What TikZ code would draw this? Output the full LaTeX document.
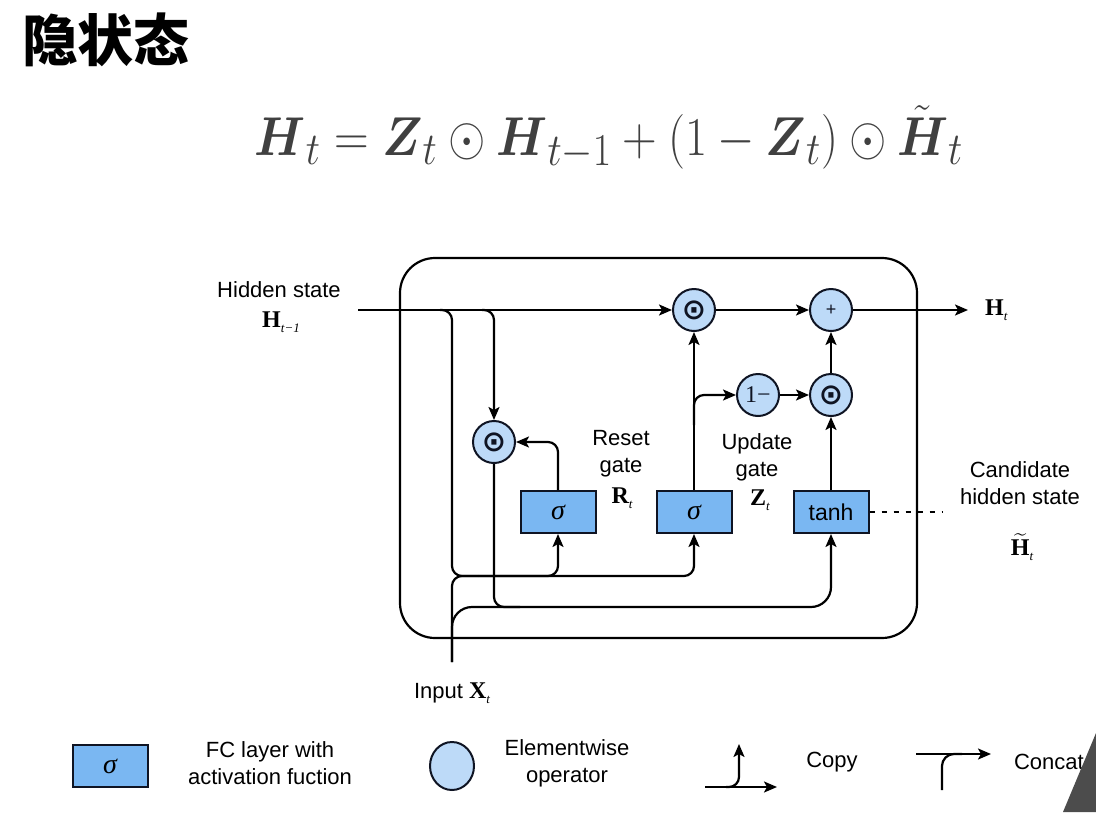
\documentclass[tikz,border=0pt]{standalone}
\usepackage{amsmath}
\usepackage{amssymb}
\usepackage{fontspec}
\usetikzlibrary{shapes.geometric,arrows.meta}
\setmainfont{Liberation Sans}
\newfontfamily\cjkfont{Noto Sans CJK SC}
\newfontfamily\symfont{Liberation Serif}
\newfontfamily\opfont{DejaVu Sans}
\definecolor{fcblue}{RGB}{122,183,242}
\definecolor{oplight}{RGB}{189,218,248}
\definecolor{ink}{RGB}{15,20,35}
\newcommand{\bsym}[2]{{\symfont\bfseries\fontsize{24}{24}\selectfont #1}\raisebox{-5pt}{\symfont\itshape\fontsize{13}{13}\selectfont #2}}
\newcommand{\odotmark}{{\opfont\bfseries\fontsize{29}{29}\selectfont ⊙}}
\newcommand{\tildeH}{$\widetilde{\hbox{\symfont\bfseries\fontsize{24}{24}\selectfont H}}$}
\tikzset{
  fcbox/.style={draw=ink, line width=2pt, fill=fcblue, minimum width=75pt, minimum height=42pt, inner sep=0pt, font=\fontsize{23}{23}\selectfont},
  elemop/.style={circle, draw=ink, line width=2pt, fill=oplight, minimum size=42pt, inner sep=0pt, text=ink},
  lbl/.style={font=\fontsize{22}{27}\selectfont, align=center, inner sep=0pt},
}

\begin{document}
\begin{tikzpicture}[x=1pt, y=-1pt, line width=2.2pt, >={Stealth[length=13pt,width=11pt,inset=3pt]}]
\useasboundingbox (0,0) rectangle (1096,812);
% title and formula
\node (title) at (106,40) {\cjkfont\bfseries\fontsize{56}{60}\selectfont 隐状态};
\node[anchor=base, text=black!75, xscale=1.93, yscale=2.2] (eq) at (609,155) {\Huge $\boldsymbol{H}_t = \boldsymbol{Z}_t \odot \boldsymbol{H}_{t-1} + (1-\boldsymbol{Z}_t) \odot \tilde{\boldsymbol{H}}_t$};

\draw[rounded corners=35pt] (400,258) rectangle (917,638);

% operators
\node[elemop] (mulh) at (694,310) {\odotmark};
\node[elemop] (add) at (831,310) {\fontsize{18}{18}\selectfont +};
\node[elemop] (onem) at (758,395) {\symfont\fontsize{24}{24}\selectfont 1−};
\node[elemop] (mulz) at (831,395) {\odotmark};
\node[elemop] (mulr) at (494,442) {\odotmark};
% FC layers
\node[fcbox] (rgate) at (558,512) {\symfont\itshape\fontsize{28}{28}\selectfont σ};
\node[fcbox] (zgate) at (694,512) {\symfont\itshape\fontsize{28}{28}\selectfont σ};
\node[fcbox] (cand) at (831,512) {tanh};

\coordinate (hin) at (358,310);
\coordinate (hout) at (968,310);
\coordinate (xin) at (452,662);
\coordinate (hdown) at (440,310);
\coordinate (hreset) at (482,310);
\coordinate (gjoin) at (478,576);
\coordinate (cjoin) at (520,607);
\coordinate (zsplit) at (694,425);
\coordinate (dotend) at (942,512);

% wires
\draw[->] (hin) -- (mulh);
\draw[->, rounded corners=10pt] (hreset) -| (mulr);
\draw[->, rounded corners=10pt] (hdown) -| (xin |- gjoin) -| (rgate.south);
\draw[rounded corners=10pt] (xin) |- (gjoin);
\draw[->, rounded corners=10pt] (gjoin) -| (zgate.south);
\draw[->, rounded corners=20pt] (xin) |- (cjoin) -| (cand.south);
\draw[rounded corners=10pt] (mulr) |- (cjoin);
\draw[->, rounded corners=10pt] (rgate) |- (mulr);
\draw[->] (zgate) -- (mulh);
\draw[->, rounded corners=10pt] (zsplit) |- (onem);
\draw[->] (onem) -- (mulz);
\draw[->] (cand) -- (mulz);
\draw[->] (mulz) -- (add);
\draw[->] (mulh) -- (add);
\draw[->] (add) -- (hout);
\draw[dash pattern=on 5pt off 7pt] (cand) -- (dotend);

% labels
\node[lbl] (hidlbl) at (279,290) {Hidden state};
\node[lbl] (hprev) at (281,322) {\bsym{H}{t−1}};
\node[lbl, anchor=west] (htlbl) at (984,310) {\bsym{H}{t}};
\node[lbl] (rlbl) at (621,454) {Reset\\gate};
\node[lbl] (rsym) at (622,498) {\bsym{R}{t}};
\node[lbl] (zlbl) at (757,457) {Update\\gate};
\node[lbl] (zsym) at (760,500) {\bsym{Z}{t}};
\node[lbl] (clbl) at (1020,483) {Candidate\\hidden state};
\node[lbl] (csym) at (1022,547) {\tildeH\raisebox{-5pt}{\symfont\itshape\fontsize{13}{13}\selectfont t}};
\node[lbl] (xlbl) at (452,693) {Input \bsym{X}{t}};

% legend
\node[fcbox] (lgfc) at (110,766) {\symfont\itshape\fontsize{28}{28}\selectfont σ};
\node[lbl] (lgfctxt) at (270,763) {FC layer with\\activation fuction};
\node[ellipse, draw=ink, line width=2pt, fill=oplight, minimum width=44pt, minimum height=48pt] (lgop) at (452,766) {};
\node[lbl] (lgoptxt) at (567,763) {Elementwise\\operator};
\coordinate (cpa) at (705,787);
\coordinate (cpb) at (777,787);
\coordinate (cpc) at (726,787);
\coordinate (cpd) at (739,744);
\draw[->] (cpa) -- (cpb);
\draw[->, rounded corners=10pt] (cpc) -| (cpd);
\node[lbl] (cptxt) at (832,762) {Copy};
\coordinate (cca) at (916,754);
\coordinate (ccb) at (991,754);
\coordinate (ccc) at (942,790);
\coordinate (ccd) at (962,754);
\draw[->] (cca) -- (ccb);
\draw[rounded corners=12pt] (ccc) |- (ccd);
\node[lbl, anchor=west] (cctxt) at (1013,762) {Concat};
\fill[black!70] (1096,733) -- (1063,812) -- (1096,812) -- cycle;
\end{tikzpicture}
\end{document}
